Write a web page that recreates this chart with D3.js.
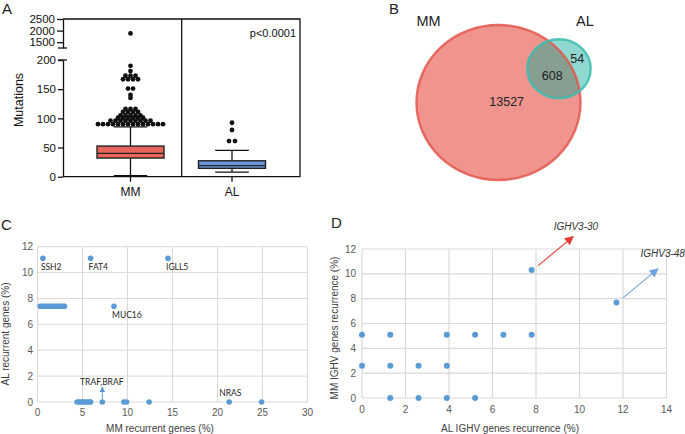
<!DOCTYPE html>
<html><head><meta charset="utf-8">
<script src="https://cdn.jsdelivr.net/npm/d3@7"></script>
<style>
body{margin:0;background:#fff;}
svg{display:block;font-family:"Liberation Sans",Arial,sans-serif;}
</style></head><body>
<svg id="chart" width="685" height="434"></svg>
<script>
// ---------- Panel A : box plot ----------
const groups = ["MM", "AL"];
const q1 = [32, 14.3];
const medians = [40, 19];
const q3 = [52.5, 27.3];
const whiskerLow = [2, 8];
const whiskerHigh = [85.5, 45];
const mmOutliers = [1880, 190, 181, 173, 173, 173, 167, 167, 167, 167, 151, 151, 140, 135,
  116, 116, 116, 111, 111, 111, 111, 105, 105, 105, 105, 105,
  101, 101, 101, 101, 101, 101,
  96, 96, 96, 96, 96, 96, 96, 96, 96,
  90, 90, 90, 90, 90, 90, 90, 90, 90, 90, 90, 90, 90, 90];
const alOutliers = [92.5, 80, 61, 61];
const yTicksLow = [0, 50, 100, 150, 200];
const yTicksHigh = [1500, 2000, 2500];
const pValueText = "p<0.0001";

// ---------- Panel B : Venn ----------
const vennSets = ["MM", "AL"];
const vennCounts = [13527, 608, 54]; // MM only, shared, AL only

// ---------- Panel C : recurrent genes ----------
const cX = [0.6, 5.9, 14.5, 8.5,
  0.3, 0.5, 0.7, 0.9, 1.1, 1.3, 1.5, 1.7, 1.9, 2.1, 2.3, 2.5, 2.7, 2.9, 3.0,
  4.4, 4.6, 4.8, 5.0, 5.2, 5.4, 5.6, 5.8, 5.9, 7.2, 9.6, 9.9, 12.4, 21.3, 24.9];
const cY = [11.1, 11.1, 11.1, 7.4,
  7.4, 7.4, 7.4, 7.4, 7.4, 7.4, 7.4, 7.4, 7.4, 7.4, 7.4, 7.4, 7.4, 7.4, 7.4,
  0, 0, 0, 0, 0, 0, 0, 0, 0, 0, 0, 0, 0, 0, 0];
const cLabelNames = ["SSH2", "FAT4", "IGLL5", "MUC16", "TRAF,BRAF", "NRAS"];
const cLabelX = [0.6, 5.9, 14.5, 8.5, 7.2, 21.3];
const cLabelY = [11.1, 11.1, 11.1, 7.4, 0, 0];
const cXTicks = [0, 5, 10, 15, 20, 25, 30];
const cYTicks = [0, 2, 4, 6, 8, 10, 12];

// ---------- Panel D : IGHV genes ----------
const dX = [0, 0, 1.3, 1.3, 1.3, 2.6, 2.6, 3.9, 3.9, 3.9, 5.2, 5.2, 6.5, 7.8, 7.8, 11.7];
const dY = [5.1, 2.6, 5.1, 2.6, 0, 2.6, 0, 5.1, 2.6, 0, 5.1, 0, 5.1, 5.1, 10.3, 7.7];
const dAnnotNames = ["IGHV3-30", "IGHV3-48"];
const dAnnotX = [7.8, 11.7];
const dAnnotY = [10.3, 7.7];
const dXTicks = [0, 2, 4, 6, 8, 10, 12, 14];
const dYTicks = [0, 2, 4, 6, 8, 10, 12];

// =====================================================
const svg = d3.select("#chart");
const defs = svg.append("defs");
function marker(id, color, w, h) {
  defs.append("marker").attr("id", id).attr("viewBox", "0 0 10 10")
    .attr("refX", 9).attr("refY", 5).attr("markerUnits", "userSpaceOnUse")
    .attr("markerWidth", w).attr("markerHeight", h).attr("orient", "auto")
    .append("path").attr("d", "M0,0 L10,5 L0,10 z").attr("fill", color);
}
marker("arRed", "#e63a2e", 10, 9);
marker("arBlue", "#6fa3da", 10, 9);
marker("arSmall", "#5b9bd5", 6, 6);

function panelLabel(t, x, y) {
  svg.append("text").attr("x", x).attr("y", y).attr("font-size", 15)
    .attr("fill", "#222").text(t);
}

// ---------------- Panel A ----------------
{
  const g = svg.append("g");
  const left = 63, right = 300, top = 19, bottom = 176.7, divider = 181.7;
  const yLow = d3.scaleLinear().domain([0, 200]).range([bottom, 60]);
  const yHigh = d3.scaleLinear().domain([1250, 2500]).range([48, top]);
  const yA = v => v <= 200 ? yLow(v) : yHigh(v);
  const x = d3.scaleBand().domain(groups).range([79.75, 282.75]);
  const cx = d => x(d) + x.bandwidth() / 2;
  const boxW = 67;
  const fills = ["#e8675a", "#6797d6"];

  g.append("path").attr("d", `M${left},${top}H${right}V${bottom}H${left}M${divider},${top}V${bottom}`)
    .attr("fill", "none").attr("stroke", "#111").attr("stroke-width", 1.3);

  const axLow = g.append("g").attr("transform", `translate(${left},0)`)
    .call(d3.axisLeft(yLow).tickValues(yTicksLow).tickFormat(d3.format("d")).tickSize(5).tickPadding(2).tickSizeOuter(0));
  const axHigh = g.append("g").attr("transform", `translate(${left},0)`)
    .call(d3.axisLeft(yHigh).tickValues(yTicksHigh).tickFormat(d3.format("d")).tickSize(6).tickPadding(2).tickSizeOuter(0));
  [axLow, axHigh].forEach(a => {
    a.selectAll("path,line").attr("stroke", "#111").attr("stroke-width", 1.3);
    a.selectAll("text").attr("font-size", 11.5).attr("fill", "#111")
      .attr("font-family", "Liberation Sans, Arial, sans-serif");
  });
  [48, 60].forEach(yy => g.append("line").attr("x1", left - 5).attr("x2", left + 4)
    .attr("y1", yy).attr("y2", yy).attr("stroke", "#111").attr("stroke-width", 1.3));

  groups.forEach(d => {
    g.append("line").attr("x1", cx(d)).attr("x2", cx(d)).attr("y1", bottom).attr("y2", bottom + 5)
      .attr("stroke", "#111").attr("stroke-width", 1.3);
    g.append("text").attr("x", cx(d)).attr("y", 196).attr("text-anchor", "middle")
      .attr("font-size", 12).attr("fill", "#111").text(d);
  });

  g.append("text").attr("transform", `translate(23,100) rotate(-90)`).attr("text-anchor", "middle")
    .attr("font-size", 12.5).attr("fill", "#111").text("Mutations");
  g.append("text").attr("x", 296).attr("y", 37).attr("text-anchor", "end")
    .attr("font-size", 11).attr("fill", "#111").text(pValueText);

  groups.forEach((d, i) => {
    const c = cx(d);
    g.append("line").attr("x1", c).attr("x2", c).attr("y1", yA(whiskerHigh[i])).attr("y2", yA(q3[i]))
      .attr("stroke", "#111").attr("stroke-width", 1.3);
    g.append("line").attr("x1", c).attr("x2", c).attr("y1", yA(q1[i])).attr("y2", yA(whiskerLow[i]))
      .attr("stroke", "#111").attr("stroke-width", 1.3);
    [whiskerHigh[i], whiskerLow[i]].forEach(v => g.append("line")
      .attr("x1", c - boxW / 4).attr("x2", c + boxW / 4).attr("y1", yA(v)).attr("y2", yA(v))
      .attr("stroke", "#111").attr("stroke-width", 1.3));
    g.append("rect").attr("x", c - boxW / 2).attr("width", boxW)
      .attr("y", yA(q3[i])).attr("height", yA(q1[i]) - yA(q3[i]))
      .attr("fill", fills[i]).attr("stroke", "#222").attr("stroke-width", 1.4);
    g.append("line").attr("x1", c - boxW / 2).attr("x2", c + boxW / 2)
      .attr("y1", yA(medians[i])).attr("y2", yA(medians[i]))
      .attr("stroke", "#222").attr("stroke-width", 1.4);
  });

  function rows(values, spacing) {
    const out = [];
    for (const [v, arr] of d3.group(values, v => v)) {
      arr.forEach((_, k) => out.push({ v, off: (k - (arr.length - 1) / 2) * spacing }));
    }
    return out;
  }
  [[mmOutliers, "MM", 5], [alOutliers, "AL", 6]].forEach(([vals, grp, sp]) => {
    g.selectAll(null).data(rows(vals, sp)).join("circle")
      .attr("cx", d => cx(grp) + d.off).attr("cy", d => yA(d.v)).attr("r", 2.4).attr("fill", "#111");
  });
  panelLabel("A", 2, 14);
}

// ---------------- Panel B ----------------
{
  const g = svg.append("g");
  const mm = { cx: 498.5, cy: 102.5, rx: 82, ry: 77.5 };
  const al = { cx: 559, cy: 68.8, rx: 31.7, ry: 29.5 };
  defs.append("clipPath").attr("id", "mmClip").append("ellipse")
    .attr("cx", mm.cx).attr("cy", mm.cy).attr("rx", mm.rx).attr("ry", mm.ry);
  g.append("ellipse").attr("cx", mm.cx).attr("cy", mm.cy).attr("rx", mm.rx).attr("ry", mm.ry)
    .attr("fill", "#ef958e");
  g.append("ellipse").attr("cx", al.cx).attr("cy", al.cy).attr("rx", al.rx).attr("ry", al.ry)
    .attr("fill", "#8fd9d1");
  g.append("ellipse").attr("cx", al.cx).attr("cy", al.cy).attr("rx", al.rx).attr("ry", al.ry)
    .attr("fill", "#889e91").attr("clip-path", "url(#mmClip)");
  g.append("ellipse").attr("cx", mm.cx).attr("cy", mm.cy).attr("rx", mm.rx).attr("ry", mm.ry)
    .attr("fill", "none").attr("stroke", "#e2574d").attr("stroke-width", 2.4).attr("stroke-opacity", 0.85);
  g.append("ellipse").attr("cx", al.cx).attr("cy", al.cy).attr("rx", al.rx).attr("ry", al.ry)
    .attr("fill", "none").attr("stroke", "#3bbcae").attr("stroke-width", 2.4).attr("stroke-opacity", 0.85);

  g.append("text").attr("x", 416.5).attr("y", 26).attr("font-size", 14.5).attr("fill", "#222").text(vennSets[0]);
  g.append("text").attr("x", 576).attr("y", 26).attr("font-size", 14.5).attr("fill", "#222").text(vennSets[1]);
  const pos = [[506.7, 106], [552.3, 79.5], [577.3, 62.5]];
  vennCounts.forEach((c, i) => g.append("text").attr("x", pos[i][0]).attr("y", pos[i][1])
    .attr("text-anchor", "middle").attr("font-size", 12.5).attr("fill", "#222").text(c));
  panelLabel("B", 389, 14);
}

// ---------------- Panel C ----------------
{
  const g = svg.append("g");
  const x = d3.scaleLinear().domain([0, 30]).range([37.5, 307.5]);
  const y = d3.scaleLinear().domain([0, 12]).range([402, 246.7]);
  const grid = "#d9d9d9";
  g.selectAll(null).data(cXTicks).join("line").attr("x1", d => x(d)).attr("x2", d => x(d))
    .attr("y1", y(0)).attr("y2", y(12)).attr("stroke", grid).attr("stroke-width", 1);
  g.selectAll(null).data(cYTicks).join("line").attr("y1", d => y(d)).attr("y2", d => y(d))
    .attr("x1", x(0)).attr("x2", x(30)).attr("stroke", grid).attr("stroke-width", 1);
  g.selectAll(null).data(cXTicks).join("text").attr("x", d => x(d)).attr("y", 415.5)
    .attr("text-anchor", "middle").attr("font-size", 10).attr("fill", "#595959").text(d => d);
  g.selectAll(null).data(cYTicks).join("text").attr("x", 33).attr("y", d => y(d)).attr("dy", "0.35em")
    .attr("text-anchor", "end").attr("font-size", 10).attr("fill", "#595959").text(d => d);
  g.append("text").attr("x", 160).attr("y", 432).attr("text-anchor", "middle")
    .attr("font-size", 10).attr("fill", "#404040").text("MM recurrent genes (%)");
  g.append("text").attr("transform", "translate(8.5,334) rotate(-90)").attr("text-anchor", "middle")
    .attr("font-size", 10).attr("fill", "#404040").text("AL recurrent genes (%)");

  g.selectAll(null).data(cX).join("circle").attr("cx", d => x(d)).attr("cy", (d, i) => y(cY[i]))
    .attr("r", 2.8).attr("fill", "#5b9bd5");

  const lf = "Lato, 'Open Sans', sans-serif";
  cLabelNames.forEach((name, i) => {
    const px = x(cLabelX[i]), py = y(cLabelY[i]);
    if (name === "TRAF,BRAF") {
      g.append("line").attr("x1", px).attr("x2", px).attr("y1", py - 3).attr("y2", py - 15)
        .attr("stroke", "#5b9bd5").attr("stroke-width", 1).attr("marker-end", "url(#arSmall)");
      g.append("text").attr("x", px - 0.5).attr("y", py - 17.5).attr("text-anchor", "middle")
        .attr("font-size", 8.5).attr("font-family", lf).attr("fill", "#262626").text(name);
    } else if (name === "NRAS") {
      g.append("text").attr("x", px - 10).attr("y", py - 6)
        .attr("font-size", 8.5).attr("font-family", lf).attr("fill", "#262626").text(name);
    } else {
      g.append("text").attr("x", px - 2).attr("y", py + 11.5)
        .attr("font-size", 8.5).attr("font-family", lf).attr("fill", "#262626").text(name);
    }
  });
  panelLabel("C", 1, 229.5);
}

// ---------------- Panel D ----------------
{
  const g = svg.append("g");
  const x = d3.scaleLinear().domain([0, 14]).range([362, 666.5]);
  const y = d3.scaleLinear().domain([0, 12]).range([398, 249]);
  const grid = "#d9d9d9";
  g.selectAll(null).data(dXTicks).join("line").attr("x1", d => x(d)).attr("x2", d => x(d))
    .attr("y1", y(0)).attr("y2", y(12)).attr("stroke", grid).attr("stroke-width", 1.2);
  g.selectAll(null).data(dYTicks).join("line").attr("y1", d => y(d)).attr("y2", d => y(d))
    .attr("x1", x(0)).attr("x2", x(14)).attr("stroke", grid).attr("stroke-width", 1.2);
  g.selectAll(null).data(dXTicks).join("text").attr("x", d => x(d)).attr("y", 413)
    .attr("text-anchor", "middle").attr("font-size", 10).attr("fill", "#595959").text(d => d);
  g.selectAll(null).data(dYTicks).join("text").attr("x", 356).attr("y", d => y(d)).attr("dy", "0.35em")
    .attr("text-anchor", "end").attr("font-size", 10).attr("fill", "#595959").text(d => d);
  g.append("text").attr("x", 510).attr("y", 431.5).attr("text-anchor", "middle")
    .attr("font-size", 10).attr("fill", "#404040").text("AL IGHV genes recurrence (%)");
  g.append("text").attr("transform", "translate(338,328) rotate(-90)").attr("text-anchor", "middle")
    .attr("font-size", 10).attr("fill", "#404040").text("MM IGHV genes recurrence (%)");

  g.selectAll(null).data(dX).join("circle").attr("cx", d => x(d)).attr("cy", (d, i) => y(dY[i]))
    .attr("r", 3).attr("fill", "#5b9bd5");

  const arrowCol = ["#e63a2e", "#6fa3da"];
  const arrowMk = ["arRed", "arBlue"];
  const labelOff = [[22, -40], [24, -45.4]];
  dAnnotNames.forEach((name, i) => {
    const px = x(dAnnotX[i]), py = y(dAnnotY[i]);
    g.append("line").attr("x1", px + 6.5).attr("y1", py - 4.5).attr("x2", px + 41.5).attr("y2", py - 33.5)
      .attr("stroke", arrowCol[i]).attr("stroke-width", 1.1).attr("marker-end", `url(#${arrowMk[i]})`);
    g.append("text").attr("x", px + labelOff[i][0]).attr("y", py + labelOff[i][1])
      .attr("font-size", 10).attr("font-style", "italic").attr("fill", "#333").text(name);
  });
  panelLabel("D", 331, 228);
}
</script>
</body></html>
